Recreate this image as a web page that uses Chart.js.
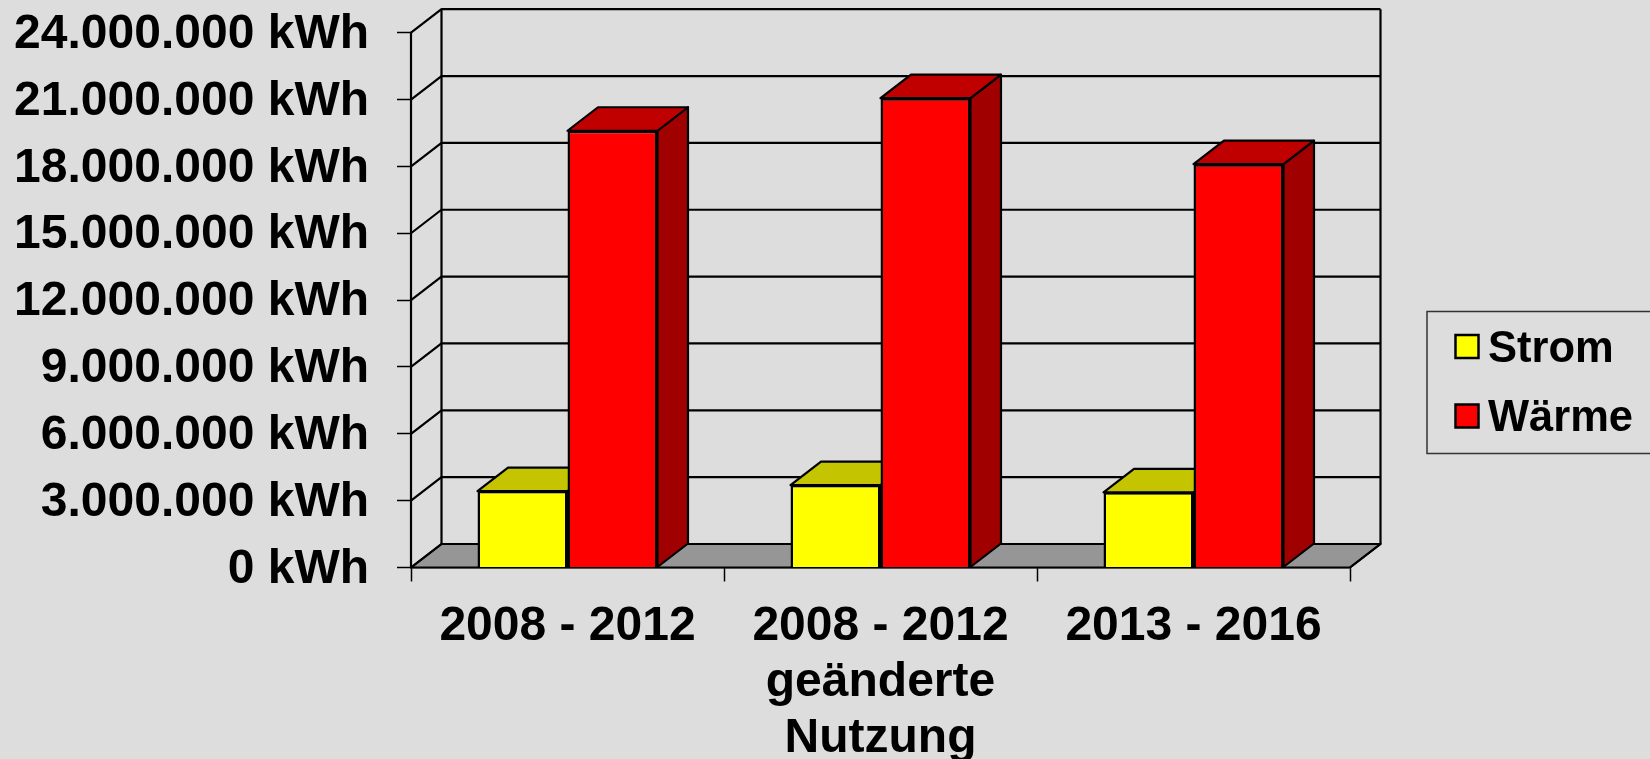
<!DOCTYPE html>
<html>
<head>
<meta charset="utf-8">
<title>Strom und Wärme</title>
<script src="https://cdn.jsdelivr.net/npm/chart.js@4"></script>
<style>
    html, body { margin: 0; padding: 0; background: #dddddd; overflow: hidden; }
    #wrap { width: 1650px; height: 759px; }
</style>
</head>
<body>
<div id="wrap"><canvas id="chart" width="1650" height="759"></canvas></div>
<script>
const categories = ['2008 - 2012', ['2008 - 2012', 'geänderte', 'Nutzung'], '2013 - 2016'];
const strom = [3430000, 3700000, 3375000];
const waerme = [19600000, 21060000, 18100000];
const seriesNames = ['Strom', 'Wärme'];
const seriesColors = ['#ffff00', '#ff0000'];
const topColors = ['#c4c400', '#c00000'];
const sideColors = ['#9c9c00', '#a00000'];

// depth of the fake 3d box
const DX = 30.5;
const DY = -23.5;
const LINE = '#000000';

function poly(ctx, pts, fill) {
    ctx.beginPath();
    ctx.moveTo(pts[0][0], pts[0][1]);
    for (let i = 1; i < pts.length; i++) {
        ctx.lineTo(pts[i][0], pts[i][1]);
    }
    ctx.closePath();
    if (fill) {
        ctx.fillStyle = fill;
        ctx.fill();
    }
    ctx.stroke();
}

const box3d = {
    id: 'box3d',
    beforeDatasetsDraw(chart) {
        const ctx = chart.ctx;
        const area = chart.chartArea;
        const y = chart.scales.y;
        ctx.save();
        ctx.strokeStyle = LINE;
        ctx.lineWidth = 2.2;
        ctx.lineJoin = 'round';

        // floor
        poly(ctx, [[area.left, area.bottom], [area.right, area.bottom],
            [area.right + DX, area.bottom + DY], [area.left + DX, area.bottom + DY]], '#969696');

        // walls and grid
        y.ticks.forEach(function (t) {
            const py = y.getPixelForValue(t.value);
            ctx.beginPath();
            ctx.moveTo(area.left, py);
            ctx.lineTo(area.left + DX, py + DY);
            if (t.value > 0) {
                ctx.lineTo(area.right + DX, py + DY);
            }
            ctx.stroke();
        });
        ctx.beginPath();
        ctx.moveTo(area.left, area.top);
        ctx.lineTo(area.left, area.bottom);
        ctx.moveTo(area.left + DX, area.top + DY);
        ctx.lineTo(area.left + DX, area.bottom + DY);
        ctx.moveTo(area.right + DX, area.top + DY);
        ctx.lineTo(area.right + DX, area.bottom + DY);
        ctx.lineTo(area.right, area.bottom);
        ctx.stroke();

        // bar tops and sides, the front comes from the library afterwards
        chart.data.datasets.forEach(function (ds, d) {
            chart.getDatasetMeta(d).data.forEach(function (bar) {
                const p = bar.getProps(['x', 'y', 'base', 'width'], true);
                const l = p.x - p.width / 2;
                const r = p.x + p.width / 2;
                poly(ctx, [[r, p.y], [r + DX, p.y + DY], [r + DX, p.base + DY], [r, p.base]], sideColors[d]);
                poly(ctx, [[l, p.y], [r, p.y], [r + DX, p.y + DY], [l + DX, p.y + DY]], topColors[d]);
            });
        });
        ctx.restore();
    },
    afterDraw(chart) {
        const ctx = chart.ctx;
        ctx.save();
        ctx.strokeStyle = '#333333';
        ctx.lineWidth = 1.5;
        ctx.strokeRect(1427, 311.5, 240, 142);
        ctx.font = 'bold 43.5px "Liberation Sans", Arial, sans-serif';
        ctx.textBaseline = 'middle';
        chart.data.datasets.forEach(function (ds, d) {
            const cy = 346.5 + d * 69.5;
            ctx.fillStyle = ds.backgroundColor;
            ctx.strokeStyle = LINE;
            ctx.lineWidth = 2.5;
            ctx.fillRect(1455.5, cy - 11.5, 23, 23);
            ctx.strokeRect(1455.5, cy - 11.5, 23, 23);
            ctx.fillStyle = '#000000';
            ctx.fillText(ds.label, 1488, cy + 3);
        });
        ctx.restore();
    }
};

Chart.defaults.font.family = '"Liberation Sans", Arial, sans-serif';
Chart.defaults.font.weight = 'bold';
Chart.defaults.font.size = 48;
Chart.defaults.color = '#000000';

new Chart(document.getElementById('chart'), {
    type: 'bar',
    data: {
        labels: categories,
        datasets: [
            { label: seriesNames[0], data: strom, backgroundColor: seriesColors[0] },
            { label: seriesNames[1], data: waerme, backgroundColor: seriesColors[1] }
        ]
    },
    plugins: [box3d],
    options: {
        responsive: false,
        animation: false,
        layout: { padding: { top: 32.7, right: 300, left: 0, bottom: 0 } },
        datasets: {
            bar: {
                barPercentage: 1,
                categoryPercentage: 0.575,
                borderColor: LINE,
                borderWidth: 2.5
            }
        },
        plugins: {
            legend: { display: false },
            tooltip: { enabled: false }
        },
        scales: {
            x: {
                afterFit(scale) { scale.height = 191.5; },
                border: { display: true, color: LINE, width: 2.2 },
                grid: { drawOnChartArea: false, tickLength: 14, tickColor: LINE, tickWidth: 1.5 },
                ticks: { maxRotation: 0, autoSkip: false, padding: 17, font: { size: 48, lineHeight: 1.17 } }
            },
            y: {
                min: 0,
                max: 24000000,
                afterFit(scale) {
                    scale.width = 411;
                    scale.paddingTop = 0;
                    scale.paddingBottom = 0;
                },
                border: { display: false },
                grid: { drawOnChartArea: false, tickLength: 14, tickColor: LINE, tickWidth: 1.5 },
                ticks: {
                    stepSize: 3000000,
                    padding: 28,
                    labelOffset: 2,
                    font: { size: 48 },
                    callback(v) {
                        return String(v).replace(/\B(?=(\d{3})+$)/g, '.') + ' kWh';
                    }
                }
            }
        }
    }
});
</script>
</body>
</html>
